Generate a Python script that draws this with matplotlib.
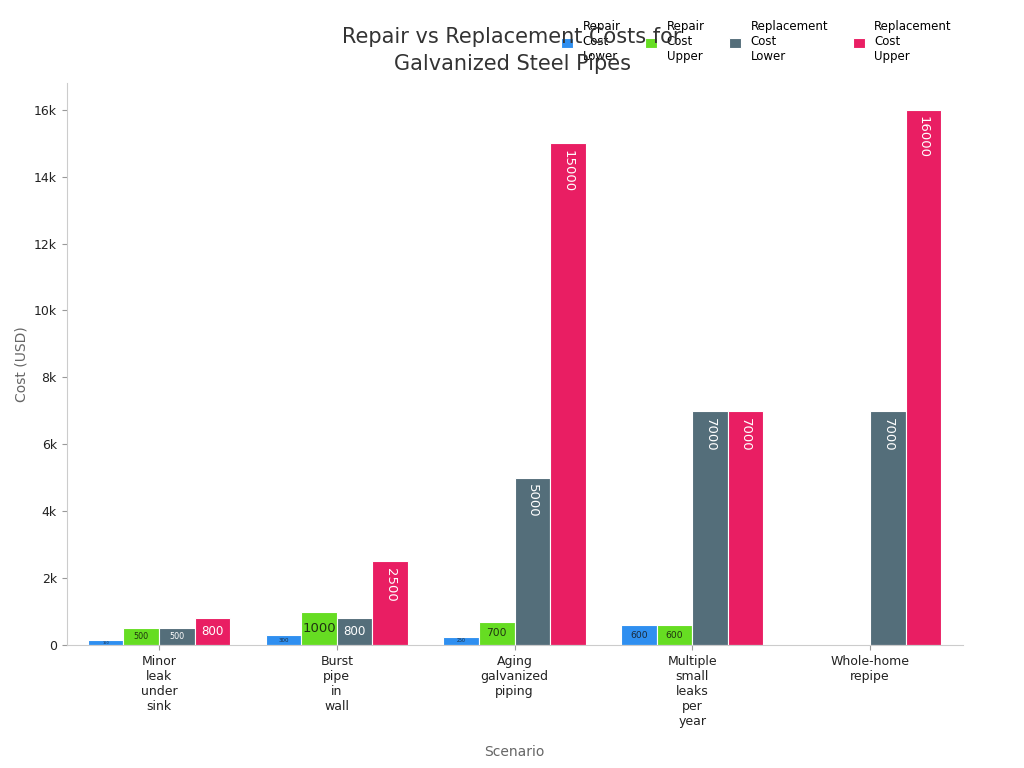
import numpy as np
import matplotlib.pyplot as plt
from matplotlib.ticker import FuncFormatter

scenarios = ['Minor\nleak\nunder\nsink', 'Burst\npipe\nin\nwall', 'Aging\ngalvanized\npiping',
             'Multiple\nsmall\nleaks\nper\nyear', 'Whole-home\nrepipe']
series = ['Repair\nCost\nLower', 'Repair\nCost\nUpper', 'Replacement\nCost\nLower', 'Replacement\nCost\nUpper']
repair_lower = [150, 300, 250, 600, np.nan]
repair_upper = [500, 1000, 700, 600, np.nan]
replace_lower = [500, 800, 5000, 7000, 7000]
replace_upper = [800, 2500, 15000, 7000, 16000]
colors = ['#2f8ff0', '#66dd22', '#546e7a', '#e91e63']
text_colors = ['#1a2a3a', '#1f3310', 'white', 'white']

values = [repair_lower, repair_upper, replace_lower, replace_upper]

fig, ax = plt.subplots(figsize=(10.24, 7.68), dpi=100)
fig.subplots_adjust(left=0.065, right=0.94, top=0.892, bottom=0.16)

x = np.arange(len(scenarios))
w = 0.2
for i, (name, vals) in enumerate(zip(series, values)):
    pos = x + (i - 1.5) * w
    bars = ax.bar(pos, vals, w, color=colors[i], edgecolor='white', linewidth=0.8, label=name)
    for b, v in zip(bars, vals):
        if np.isnan(v):
            continue
        cx = b.get_x() + b.get_width() / 2
        if v >= 2000:
            ax.text(cx, v - 200, f'{v:.0f}', rotation=-90, ha='center', va='top',
                    color=text_colors[i], fontsize=9.5)
        else:
            fs = min(9.5, max(2.5, v / 1000 * 9.5 + 1))
            ax.text(cx, v / 2, f'{v:.0f}', ha='center', va='center',
                    color=text_colors[i], fontsize=fs)

ax.set_xticks(x)
ax.set_xticklabels(scenarios, fontsize=9, color='#222222')
ax.set_ylim(0, 16800)
ax.set_xlim(-0.52, 4.52)
ax.yaxis.set_major_formatter(FuncFormatter(lambda v, p: '0' if v == 0 else f'{v/1000:.0f}k'))
ax.tick_params(axis='y', labelsize=9, colors='#222222')
ax.tick_params(axis='both', color='#999999')
for s in ['top', 'right']:
    ax.spines[s].set_visible(False)
for s in ['left', 'bottom']:
    ax.spines[s].set_color('#cccccc')

ax.set_xlabel('Scenario', fontsize=10, color='#666666', labelpad=12)
ax.set_ylabel('Cost (USD)', fontsize=10, color='#666666')
fig.suptitle('Repair vs Replacement Costs for\nGalvanized Steel Pipes', fontsize=15,
             color='#333333', x=0.5, y=0.965, linespacing=1.45)

ax.legend(loc='upper right', bbox_to_anchor=(1.0, 1.13), ncol=4, frameon=False, fontsize=8.5,
          handlelength=1, handleheight=1, columnspacing=2.1)

plt.savefig('out.png', dpi=100)
